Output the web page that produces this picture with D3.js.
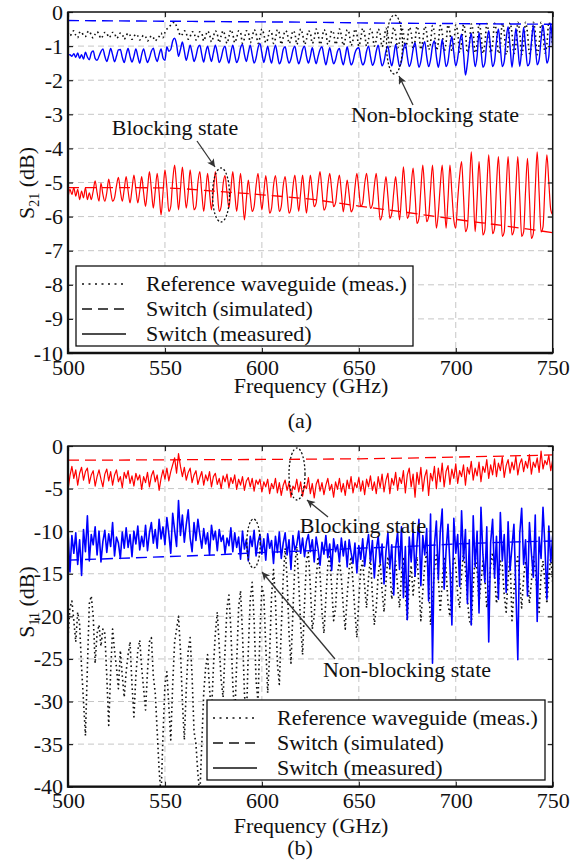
<!DOCTYPE html>
<html>
<head>
<meta charset="utf-8">
<script src="https://cdn.jsdelivr.net/npm/d3@7"></script>
<style>
  body { margin: 0; background: #fff; }
  text { font-family: "Liberation Serif", "Times New Roman", serif; fill: #111; }
</style>
</head>
<body>
<div id="chart-area"></div>
<script>
// measured traces on a 1 GHz grid, 500..750 GHz
const measFreqs = d3.range(500, 751);
// simulated traces are smooth, read every 25 GHz
const simFreqs = [500, 525, 550, 575, 600, 625, 650, 675, 700, 725, 750];

const xTicks = [500, 550, 600, 650, 700, 750];
const s21Ticks = [0, -1, -2, -3, -4, -5, -6, -7, -8, -9, -10];
const s11Ticks = [0, -5, -10, -15, -20, -25, -30, -35, -40];

const legendLabels = ["Reference waveguide (meas.)", "Switch (simulated)", "Switch (measured)"];

// ---- (a) S21 ----
const s21SimNonBlocking = [-0.25, -0.26, -0.27, -0.28, -0.29, -0.3, -0.32, -0.33, -0.34, -0.35, -0.36];
const s21SimBlocking = [-5.15, -5.15, -5.16, -5.25, -5.36, -5.49, -5.69, -5.88, -6.08, -6.27, -6.47];

const s21RefMeas = [
  -0.6,-0.7,-0.62,-0.55,-0.68,-0.75,-0.6,-0.58,-0.7,-0.72,
  -0.6,-0.56,-0.68,-0.76,-0.65,-0.58,-0.66,-0.78,-0.7,-0.6,
  -0.62,-0.75,-0.7,-0.6,-0.62,-0.77,-0.72,-0.62,-0.65,-0.8,
  -0.7,-0.62,-0.68,-0.8,-0.72,-0.65,-0.7,-0.82,-0.75,-0.68,
  -0.72,-0.85,-0.78,-0.7,-0.75,-0.85,-0.78,-0.72,-0.62,-0.75,
  -0.6,-0.5,-0.45,-0.38,-0.32,-0.3,-0.42,-0.55,-0.7,-0.65,
  -0.55,-0.62,-0.8,-0.72,-0.58,-0.6,-0.82,-0.75,-0.58,-0.62,
  -0.85,-0.7,-0.56,-0.65,-0.88,-0.72,-0.55,-0.65,-0.9,-0.7,
  -0.55,-0.7,-0.92,-0.72,-0.52,-0.65,-0.9,-0.75,-0.55,-0.6,
  -0.92,-0.78,-0.55,-0.6,-0.9,-0.75,-0.52,-0.62,-0.92,-0.75,
  -0.5,-0.65,-0.9,-0.8,-0.55,-0.6,-0.92,-0.78,-0.52,-0.62,
  -0.95,-0.75,-0.55,-0.6,-0.92,-0.8,-0.55,-0.62,-0.95,-0.75,
  -0.5,-0.65,-0.95,-0.8,-0.55,-0.62,-0.92,-0.78,-0.5,-0.65,
  -0.95,-0.8,-0.52,-0.6,-0.95,-0.82,-0.55,-0.62,-0.95,-0.8,
  -0.5,-0.68,-0.98,-0.8,-0.52,-0.62,-0.98,-0.82,-0.5,-0.65,
  -1.0,-0.78,-0.48,-0.65,-1.0,-0.8,-0.5,-0.62,-1.0,-0.82,
  -0.5,-0.65,-1.02,-0.8,-0.48,-0.68,-1.02,-0.8,-0.45,-0.65,
  -1.05,-0.85,-0.45,-0.62,-1.05,-0.85,-0.45,-0.6,-1.08,-0.85,
  -0.42,-0.62,-1.1,-0.85,-0.42,-0.6,-1.1,-0.9,-0.4,-0.62,
  -1.12,-0.9,-0.4,-0.6,-1.15,-0.9,-0.38,-0.6,-1.15,-0.95,
  -0.38,-0.6,-1.18,-0.92,-0.36,-0.62,-1.2,-0.95,-0.35,-0.6,
  -1.2,-0.95,-0.35,-0.62,-1.22,-0.95,-0.34,-0.62,-1.2,-0.95,
  -0.33,-0.6,-1.22,-0.98,-0.33,-0.6,-1.25,-0.95,-0.32,-0.62,
  -1.22,-0.98,-0.3,-0.6,-1.25,-0.95,-0.3,-0.62,-1.22,-1.0,
  -0.3,-0.6,-1.25,-0.95,-0.3,-0.62,-1.2,-0.95,-0.3,-0.6,
  -1.0
];

const s21MeasNonBlocking = [
  -1.28,-1.25,-1.3,-1.22,-1.33,-1.2,-1.36,-1.25,-1.38,-1.18,
  -1.32,-1.4,-1.2,-1.14,-1.36,-1.42,-1.3,-1.16,-1.08,-1.3,
  -1.45,-1.28,-1.07,-1.25,-1.46,-1.3,-1.11,-1.1,-1.33,-1.48,
  -1.25,-1.07,-1.3,-1.47,-1.3,-1.08,-1.3,-1.5,-1.25,-1.08,
  -1.3,-1.48,-1.35,-1.15,-1.06,-1.3,-1.45,-1.25,-1.08,-1.35,
  -1.42,-1.02,-1.15,-1.1,-0.85,-0.77,-0.95,-1.3,-1.1,-0.88,
  -1.15,-1.42,-1.2,-0.97,-1.2,-1.45,-1.3,-1.05,-0.97,-1.25,
  -1.47,-1.2,-1.0,-1.25,-1.45,-1.2,-0.97,-1.2,-1.48,-1.35,
  -1.1,-1.0,-1.3,-1.5,-1.2,-0.97,-1.25,-1.48,-1.35,-1.05,
  -0.95,-1.25,-1.45,-1.2,-0.97,-1.25,-1.5,-1.35,-1.05,-0.92,
  -1.2,-1.48,-1.25,-1.0,-1.3,-1.5,-1.2,-0.97,-1.25,-1.52,
  -1.4,-1.1,-1.02,-1.3,-1.5,-1.38,-1.12,-1.0,-1.3,-1.52,
  -1.35,-1.1,-1.0,-1.3,-1.5,-1.3,-1.05,-1.3,-1.52,-1.3,
  -1.1,-1.02,-1.3,-1.55,-1.3,-1.05,-1.3,-1.52,-1.4,-1.15,
  -1.07,-1.35,-1.55,-1.3,-1.02,-1.3,-1.55,-1.45,-1.2,-1.08,
  -1.05,-1.35,-1.55,-1.45,-1.15,-1.0,-1.3,-1.56,-1.45,-1.15,
  -0.97,-1.3,-1.58,-1.45,-1.15,-1.0,-1.35,-1.58,-1.3,-0.95,
  -1.3,-1.6,-1.45,-1.1,-0.92,-1.3,-1.6,-1.45,-1.1,-0.9,
  -1.3,-1.62,-1.45,-1.05,-0.87,-1.3,-1.6,-1.4,-1.0,-0.85,
  -1.3,-1.62,-1.3,-0.8,-1.2,-1.6,-1.45,-1.0,-0.72,-1.2,
  -1.58,-1.35,-0.9,-0.65,-1.2,-1.85,-1.5,-0.95,-0.62,-1.15,
  -1.6,-1.3,-0.6,-1.1,-1.62,-1.5,-0.9,-0.55,-1.1,-1.6,
  -1.45,-0.85,-0.5,-1.05,-1.6,-1.45,-0.8,-0.43,-1.0,-1.62,
  -1.1,-0.48,-1.0,-1.6,-1.1,-0.45,-1.0,-1.58,-1.5,-0.9,
  -0.4,-0.95,-1.55,-1.4,-0.8,-0.38,-0.9,-1.5,-1.3,-0.33,
  -1.1
];

const s21MeasBlocking = [
  -5.45,-5.2,-5.35,-5.15,-5.4,-5.2,-5.5,-5.25,-5.45,-5.15,
  -5.5,-5.3,-5.5,-5.25,-4.95,-5.3,-5.55,-5.02,-5.35,-5.55,
  -5.3,-4.9,-5.25,-5.55,-5.45,-5.1,-4.85,-5.25,-5.55,-5.2,
  -4.83,-5.25,-5.6,-5.2,-4.78,-5.2,-5.6,-5.25,-4.83,-5.3,
  -5.7,-5.2,-4.68,-5.2,-5.75,-5.25,-4.73,-5.3,-5.95,-5.3,
  -4.63,-5.15,-5.85,-5.7,-4.95,-4.49,-5.1,-5.8,-5.2,-4.55,
  -5.15,-5.75,-5.3,-4.63,-5.2,-5.8,-5.7,-5.0,-4.68,-5.3,
  -5.85,-5.3,-4.73,-5.3,-5.8,-5.25,-4.68,-5.25,-5.85,-5.7,
  -5.05,-4.8,-5.3,-5.75,-5.2,-4.68,-5.3,-5.85,-5.3,-4.73,
  -5.4,-6.1,-5.5,-4.93,-5.4,-5.85,-5.7,-5.1,-4.73,-5.3,
  -5.8,-5.3,-4.8,-5.3,-5.9,-5.75,-5.1,-4.8,-5.3,-5.85,
  -5.7,-5.1,-4.83,-5.35,-5.9,-5.75,-5.15,-4.78,-5.3,-5.85,
  -5.3,-4.78,-5.35,-5.9,-5.35,-4.78,-5.25,-5.71,-5.6,-5.05,
  -4.68,-5.25,-5.81,-5.7,-5.1,-4.73,-5.2,-5.71,-5.6,-5.1,
  -4.78,-5.3,-5.86,-5.4,-4.93,-5.35,-5.86,-5.75,-5.15,-4.73,
  -5.2,-5.71,-5.6,-5.05,-4.73,-5.25,-5.76,-5.65,-5.1,-4.73,
  -5.4,-6.1,-5.95,-5.3,-4.83,-5.4,-6.05,-5.9,-5.3,-4.83,
  -5.45,-6.1,-5.4,-4.54,-5.3,-6.05,-5.9,-5.1,-4.58,-5.35,
  -6.2,-6.05,-5.2,-4.49,-5.3,-6.15,-6.0,-5.2,-4.49,-5.4,
  -6.34,-5.9,-5.1,-4.49,-5.4,-6.34,-5.5,-4.49,-5.3,-6.1,
  -6.34,-5.5,-4.8,-4.39,-5.4,-6.44,-6.3,-5.2,-4.1,-5.2,
  -6.44,-5.5,-4.39,-5.4,-6.54,-6.4,-5.2,-4.19,-5.3,-6.5,
  -6.35,-5.1,-4.24,-5.4,-6.58,-6.45,-5.2,-4.24,-5.35,-6.54,
  -6.4,-5.2,-4.24,-5.4,-6.58,-6.45,-5.25,-4.29,-5.45,-6.64,
  -6.5,-5.2,-4.1,-5.3,-6.45,-6.3,-5.1,-4.19,-5.0,-5.8,
  -5.95
];

// ---- (b) S11 ----
const s11SimBlocking = [-1.65, -1.65, -1.62, -1.6, -1.58, -1.55, -1.5, -1.42, -1.3, -1.18, -1.05];
const s11SimNonBlocking = [-13.4, -13.2, -13.0, -12.8, -12.5, -12.3, -12.0, -11.8, -11.5, -11.3, -11.15];

const s11RefMeas = [
  -22.5,-19.0,-18.2,-20.5,-23.0,-19.5,-21.0,-26.0,-30.0,-34.0,
  -26.0,-18.5,-17.6,-20.0,-25.5,-22.0,-21.0,-23.5,-21.5,-22.0,
  -27.0,-32.8,-26.5,-21.5,-24.0,-26.0,-28.5,-24.0,-27.0,-29.5,
  -26.5,-24.5,-23.0,-28.0,-31.8,-27.0,-24.0,-22.8,-26.0,-28.5,
  -31.0,-26.5,-23.0,-22.5,-27.0,-29.0,-33.5,-38.0,-41.0,-34.0,
  -28.0,-26.5,-30.5,-34.5,-28.0,-23.0,-21.5,-20.0,-24.0,-30.0,
  -34.5,-28.5,-24.0,-22.5,-27.0,-33.5,-35.0,-38.5,-41.0,-35.0,
  -29.0,-26.0,-24.5,-28.5,-31.5,-26.0,-22.0,-19.5,-23.5,-27.5,
  -29.5,-24.0,-19.0,-17.5,-21.5,-28.0,-32.0,-25.5,-19.0,-17.0,
  -22.0,-29.0,-32.5,-24.0,-18.0,-16.0,-20.5,-27.5,-30.0,-22.0,
  -16.5,-17.5,-23.5,-29.0,-24.5,-17.5,-14.5,-18.0,-25.5,-28.0,
  -21.5,-15.5,-12.0,-15.5,-22.0,-25.5,-19.5,-14.0,-11.8,-16.0,
  -21.0,-24.5,-18.5,-13.5,-12.5,-16.5,-21.5,-20.0,-15.5,-13.0,
  -15.0,-19.5,-22.0,-18.0,-14.0,-13.0,-16.5,-20.5,-19.0,-15.0,
  -13.5,-15.5,-19.0,-21.5,-17.5,-14.5,-13.0,-16.0,-19.5,-22.5,
  -18.0,-14.5,-13.5,-16.5,-19.0,-15.5,-13.0,-17.5,-21.0,-19.0,
  -15.0,-13.5,-17.0,-19.5,-16.0,-13.0,-14.5,-18.0,-15.5,-13.5,
  -16.5,-19.0,-15.0,-13.0,-17.0,-20.5,-16.0,-14.0,-17.5,-15.0,
  -13.0,-16.5,-20.5,-17.0,-14.0,-12.5,-16.0,-21.0,-18.0,-14.5,
  -12.8,-15.5,-19.5,-16.0,-13.0,-14.5,-18.5,-20.0,-15.5,-13.0,
  -14.0,-17.5,-19.0,-15.0,-12.5,-14.5,-18.0,-20.5,-21.0,-16.5,
  -13.0,-14.5,-18.5,-16.0,-13.5,-15.5,-19.0,-17.0,-14.0,-12.5,
  -15.0,-18.5,-16.5,-13.5,-14.0,-17.5,-19.5,-15.5,-13.0,-20.5,
  -17.0,-14.0,-13.0,-16.0,-19.0,-15.5,-13.5,-15.0,-18.5,-16.0,
  -13.0,-14.5,-17.5,-19.5,-15.0,-13.5,-16.0,-18.5,-15.5,-13.0,
  -16.0
];

const s11MeasNonBlocking = [
  -10.0,-14.8,-10.5,-12.6,-10.2,-13.9,-11.0,-15.2,-9.8,-12.4,
  -8.2,-13.5,-10.4,-11.6,-9.5,-12.8,-10.0,-13.6,-11.2,-9.9,
  -12.5,-10.3,-11.8,-9.0,-12.9,-10.7,-11.4,-13.2,-10.1,-12.0,
  -9.6,-11.9,-10.4,-13.0,-10.0,-11.5,-9.4,-12.2,-10.6,-11.8,
  -9.3,-12.3,-10.2,-9.0,-11.4,-9.8,-12.0,-8.6,-10.9,-9.5,
  -11.6,-8.4,-10.3,-12.6,-7.9,-9.9,-11.8,-6.4,-10.5,-8.1,
  -11.3,-9.2,-7.5,-10.8,-12.4,-9.0,-11.1,-8.6,-10.4,-12.0,
  -9.7,-11.5,-10.2,-12.8,-9.3,-11.0,-10.0,-12.3,-9.8,-11.2,
  -10.5,-12.6,-10.8,-11.7,-9.6,-12.4,-10.2,-11.9,-10.7,-13.3,
  -10.0,-12.1,-11.0,-13.5,-10.6,-11.8,-9.9,-12.9,-11.3,-10.4,
  -12.7,-10.9,-13.4,-10.3,-12.0,-11.1,-13.8,-10.6,-12.5,-10.1,
  -13.2,-11.4,-10.2,-12.8,-11.0,-14.5,-10.5,-12.2,-11.6,-10.0,
  -12.6,-10.8,-13.0,-11.2,-10.4,-12.4,-11.0,-13.6,-10.7,-12.1,
  -14.0,-11.3,-12.7,-10.5,-13.1,-11.5,-14.6,-10.9,-12.4,-11.6,
  -13.6,-10.8,-12.9,-11.2,-14.2,-11.0,-12.5,-13.8,-11.4,-14.9,
  -11.7,-13.3,-10.9,-14.1,-12.0,-10.4,-13.6,-11.1,-15.5,-12.2,
  -10.6,-13.8,-11.5,-16.2,-12.4,-10.2,-14.3,-11.6,-17.5,-12.0,
  -10.1,-14.5,-9.5,-17.8,-11.8,-20.4,-10.7,-13.6,-9.8,-15.3,
  -11.4,-8.6,-16.4,-10.5,-12.8,-9.7,-18.2,-8.0,-25.5,-11.6,
  -8.8,-15.7,-10.1,-7.4,-16.8,-12.3,-9.2,-14.0,-21.0,-8.5,
  -12.6,-10.4,-16.5,-7.6,-13.4,-9.8,-18.5,-11.0,-21.0,-8.2,
  -14.2,-10.0,-19.6,-7.2,-12.7,-16.0,-9.5,-23.0,-11.3,-8.6,
  -15.5,-10.6,-18.0,-7.8,-13.5,-10.4,-17.2,-8.9,-14.6,-11.8,
  -9.2,-16.8,-25.1,-10.3,-7.3,-13.9,-11.0,-17.6,-9.0,-12.5,
  -15.4,-8.1,-20.6,-10.7,-13.2,-7.2,-11.8,-18.0,-9.4,-13.6,
  -10.5
];

const s11MeasBlocking = [
  -5.2,-3.5,-2.4,-3.8,-2.8,-4.6,-3.2,-2.5,-4.0,-3.0,
  -2.6,-4.4,-3.4,-2.9,-4.7,-3.6,-2.8,-3.9,-4.8,-3.3,
  -2.7,-4.1,-3.0,-4.6,-3.4,-2.8,-4.2,-3.6,-4.9,-3.1,
  -3.8,-2.9,-4.4,-3.5,-4.7,-3.2,-4.0,-3.4,-5.1,-3.6,
  -4.3,-3.1,-4.8,-3.5,-2.9,-4.2,-3.4,-5.2,-3.8,-2.8,
  -3.9,-2.6,-4.1,-3.0,-2.2,-1.4,-3.2,-0.9,-2.4,-3.6,
  -2.5,-4.0,-3.1,-2.6,-4.3,-3.4,-2.9,-4.5,-3.7,-3.0,
  -4.6,-3.4,-4.1,-3.0,-4.8,-3.6,-3.2,-4.5,-3.8,-5.0,
  -3.5,-4.2,-3.3,-4.9,-3.7,-4.4,-3.4,-5.1,-3.9,-4.6,
  -3.6,-5.2,-4.1,-3.7,-4.8,-3.8,-5.3,-4.0,-4.5,-3.9,
  -5.4,-4.2,-4.8,-3.9,-5.6,-4.4,-5.0,-3.8,-5.5,-4.3,
  -5.8,-4.6,-4.0,-5.2,-4.3,-6.0,-4.7,-5.1,-3.9,-5.4,
  -4.2,-5.9,-4.6,-5.0,-3.7,-5.6,-4.4,-6.1,-4.5,-3.9,
  -5.3,-4.3,-5.7,-4.6,-3.8,-5.2,-4.5,-6.0,-4.2,-5.1,
  -3.8,-5.4,-4.4,-5.8,-4.0,-5.0,-3.6,-5.5,-4.3,-4.9,
  -3.7,-5.3,-4.1,-5.7,-3.9,-4.8,-3.5,-5.2,-4.2,-5.6,
  -3.6,-4.9,-3.3,-5.4,-4.0,-3.2,-5.6,-3.8,-4.6,-3.1,
  -5.2,-3.7,-4.4,-2.9,-5.5,-3.4,-2.6,-4.8,-3.3,-6.0,
  -3.1,-4.5,-2.5,-5.3,-3.6,-2.8,-5.8,-3.2,-4.1,-2.4,
  -5.0,-2.6,-4.2,-2.0,-4.8,-3.0,-2.3,-4.5,-2.7,-3.8,
  -2.1,-4.4,-2.9,-3.6,-2.2,-4.6,-2.5,-3.3,-1.8,-4.0,
  -2.6,-3.5,-1.9,-4.2,-2.4,-3.1,-1.6,-3.8,-2.2,-3.4,
  -1.5,-3.6,-2.0,-2.9,-1.3,-3.7,-2.3,-1.6,-3.2,-1.9,
  -2.8,-1.2,-3.4,-2.1,-1.5,-3.0,-1.8,-2.6,-1.0,-3.3,
  -1.9,-2.5,-1.4,-3.1,-0.6,-2.7,-1.7,-2.2,-1.1,-2.9,
  -1.6
];

const width = 584;
const height = 864;
const plotLeft = 68;
const plotRight = 552.7;
const fontFamily = '"Liberation Serif", "Times New Roman", serif';

const dotted = "1.6,3";
const dashed = "11,6";

const svg = d3.select("#chart-area").append("svg").attr("width", width).attr("height", height);
svg.append("rect").attr("width", width).attr("height", height).attr("fill", "#fff");

const defs = svg.append("defs");
defs.append("marker")
  .attr("id", "arrow")
  .attr("viewBox", "0 0 10 10")
  .attr("refX", 10).attr("refY", 5)
  .attr("markerWidth", 13).attr("markerHeight", 8)
  .attr("markerUnits", "userSpaceOnUse")
  .attr("orient", "auto")
  .append("path").attr("d", "M0,0 L10,5 L0,10 L2.5,5 Z").attr("fill", "#333");

const xScale = d3.scaleLinear().domain([500, 750]).range([plotLeft, plotRight]);

function drawPanel(p) {
  const yScale = d3.scaleLinear().domain(p.domain).range([p.bottom, p.top]);
  const g = svg.append("g");

  // dashed grid
  g.append("g").selectAll("line").data(xTicks.slice(1, -1)).join("line")
    .attr("x1", d => xScale(d)).attr("x2", d => xScale(d))
    .attr("y1", p.top).attr("y2", p.bottom)
    .attr("stroke", "#c6c6c6").attr("stroke-dasharray", "6,4");
  g.append("g").selectAll("line").data(p.yTicks.slice(1, -1)).join("line")
    .attr("x1", plotLeft).attr("x2", plotRight)
    .attr("y1", d => yScale(d)).attr("y2", d => yScale(d))
    .attr("stroke", "#c6c6c6").attr("stroke-dasharray", "6,4");

  defs.append("clipPath").attr("id", "clip-" + p.tag)
    .append("rect").attr("x", plotLeft).attr("y", p.top)
    .attr("width", plotRight - plotLeft).attr("height", p.bottom - p.top);

  const line = d3.line().curve(p.curve).x(d => xScale(d[0])).y(d => yScale(d[1]));
  const traces = g.append("g").attr("clip-path", `url(#clip-${p.tag})`);
  p.series.forEach(s => {
    traces.append("path")
      .datum(d3.zip(s.freqs, s.values))
      .attr("d", line)
      .attr("fill", "none")
      .attr("stroke", s.color)
      .attr("stroke-width", s.width)
      .attr("stroke-dasharray", s.dash)
      .attr("stroke-linejoin", "round");
  });

  // axes, ticks point inward on all four sides
  const fmt = d => String(d);
  const leftAxis = g.append("g").attr("transform", `translate(${plotLeft},0)`)
    .call(d3.axisLeft(yScale).tickValues(p.yTicks).tickSize(-5).tickPadding(5).tickFormat(fmt));
  const bottomAxis = g.append("g").attr("transform", `translate(0,${p.bottom})`)
    .call(d3.axisBottom(xScale).tickValues(xTicks).tickSize(-5).tickPadding(6).tickFormat(fmt));
  g.append("g").attr("transform", `translate(${plotRight},0)`)
    .call(d3.axisRight(yScale).tickValues(p.yTicks).tickSize(-5).tickFormat(""));
  g.append("g").attr("transform", `translate(0,${p.top})`)
    .call(d3.axisTop(xScale).tickValues(xTicks).tickSize(-5).tickFormat(""));
  g.selectAll(".domain").remove();
  g.selectAll(".tick line").attr("stroke", "#222").attr("stroke-width", 1.2);
  [leftAxis, bottomAxis].forEach(a => a.attr("font-size", 22).attr("font-family", fontFamily));
  g.selectAll(".tick text").attr("fill", "#111");

  g.append("rect")
    .attr("x", plotLeft).attr("y", p.top)
    .attr("width", plotRight - plotLeft).attr("height", p.bottom - p.top)
    .attr("fill", "none").attr("stroke", "#111").attr("stroke-width", 1.5);
  g.append("path")
    .attr("d", `M${plotLeft},${p.top}V${p.bottom}H${plotRight}`)
    .attr("fill", "none").attr("stroke", "#111").attr("stroke-width", 2.3);

  // axis titles
  const yLabel = g.append("text")
    .attr("transform", `translate(34,${p.labelY}) rotate(-90)`)
    .attr("text-anchor", "middle")
    .attr("font-size", 22);
  yLabel.append("tspan").text("S");
  yLabel.append("tspan").attr("font-size", 14).attr("dy", 5).text(p.sub);
  yLabel.append("tspan").attr("dy", -5).text(" (dB)");

  g.append("text")
    .attr("x", 311).attr("y", p.xTitleY)
    .attr("text-anchor", "middle").attr("font-size", 22)
    .text("Frequency (GHz)");
  g.append("text")
    .attr("x", 300).attr("y", p.captionY)
    .attr("text-anchor", "middle").attr("font-size", 22)
    .text(p.caption);

  // legend
  const lg = g.append("g");
  lg.append("rect")
    .attr("x", p.legend.x).attr("y", p.legend.y)
    .attr("width", p.legend.w).attr("height", p.legend.h)
    .attr("fill", "#fff").attr("stroke", "#111").attr("stroke-width", 1.3);
  const legendDash = ["2,4.5", "10,6", null];
  legendLabels.forEach((label, i) => {
    const ly = p.legend.y + 18 + i * 25;
    lg.append("line")
      .attr("x1", p.legend.x + 6).attr("x2", p.legend.x + 50)
      .attr("y1", ly).attr("y2", ly)
      .attr("stroke", "#111").attr("stroke-width", 1.5)
      .attr("stroke-dasharray", legendDash[i]);
    lg.append("text")
      .attr("x", p.legend.x + 70).attr("y", ly + 7)
      .attr("font-size", 22)
      .text(label);
  });

  // annotations: dotted ellipse, arrow, label
  p.notes.forEach(n => {
    g.append("ellipse")
      .attr("cx", n.cx).attr("cy", n.cy).attr("rx", n.rx).attr("ry", n.ry)
      .attr("fill", "none").attr("stroke", "#111").attr("stroke-width", 1.3)
      .attr("stroke-dasharray", "2,2");
    g.append("line")
      .attr("x1", n.from[0]).attr("y1", n.from[1])
      .attr("x2", n.to[0]).attr("y2", n.to[1])
      .attr("stroke", "#333").attr("stroke-width", 1.3)
      .attr("marker-end", "url(#arrow)");
    g.append("text")
      .attr("x", n.tx).attr("y", n.ty)
      .attr("text-anchor", "middle").attr("font-size", 22)
      .text(n.text);
  });
}

drawPanel({
  tag: "a",
  top: 12, bottom: 353,
  domain: [-10, 0],
  yTicks: s21Ticks.slice().reverse(),
  curve: d3.curveMonotoneX,
  sub: "21", labelY: 183,
  xTitleY: 393, captionY: 428, caption: "(a)",
  legend: { x: 76, y: 266, w: 337, h: 80 },
  series: [
    { freqs: measFreqs, values: s21RefMeas, color: "#111", width: 1.6, dash: dotted },
    { freqs: measFreqs, values: s21MeasNonBlocking, color: "#0000ff", width: 1.4, dash: null },
    { freqs: simFreqs, values: s21SimNonBlocking, color: "#0000ff", width: 1.4, dash: dashed },
    { freqs: measFreqs, values: s21MeasBlocking, color: "#ff0000", width: 1.2, dash: null },
    { freqs: simFreqs, values: s21SimBlocking, color: "#ff0000", width: 1.3, dash: dashed }
  ],
  notes: [
    { text: "Blocking state", tx: 175, ty: 135, from: [197, 141], to: [215, 167], cx: 221, cy: 195, rx: 8.5, ry: 27 },
    { text: "Non-blocking state", tx: 435, ty: 122, from: [413, 105], to: [399, 76], cx: 394.5, cy: 44.5, rx: 8, ry: 29.5 }
  ]
});

drawPanel({
  tag: "b",
  top: 446, bottom: 786.7,
  domain: [-40, 0],
  yTicks: s11Ticks.slice().reverse(),
  curve: d3.curveLinear,
  sub: "11", labelY: 602,
  xTitleY: 833, captionY: 855, caption: "(b)",
  legend: { x: 207, y: 700, w: 338, h: 80 },
  series: [
    { freqs: measFreqs, values: s11RefMeas, color: "#111", width: 1.6, dash: dotted },
    { freqs: measFreqs, values: s11MeasNonBlocking, color: "#0000ff", width: 1.6, dash: null },
    { freqs: simFreqs, values: s11SimNonBlocking, color: "#0000ff", width: 1.4, dash: dashed },
    { freqs: measFreqs, values: s11MeasBlocking, color: "#ff0000", width: 1.2, dash: null },
    { freqs: simFreqs, values: s11SimBlocking, color: "#ff0000", width: 1.3, dash: dashed }
  ],
  notes: [
    { text: "Blocking state", tx: 363, ty: 533, from: [328, 517], to: [307, 500], cx: 297, cy: 474, rx: 8, ry: 26 },
    { text: "Non-blocking state", tx: 407, ty: 677, from: [335, 659], to: [262, 572], cx: 253.5, cy: 543.5, rx: 6.7, ry: 24.5 }
  ]
});
</script>
</body>
</html>
